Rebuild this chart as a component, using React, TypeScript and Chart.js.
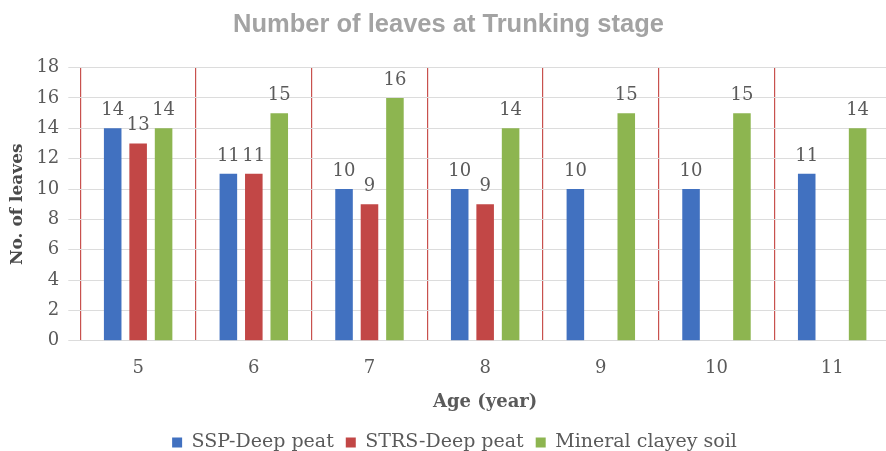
import React, { useEffect, useRef } from "react";
import { Chart, registerables } from "chart.js";

Chart.register(...registerables);

const categories = ["5", "6", "7", "8", "9", "10", "11"];
const sspDeepPeat = [14, 11, 10, 10, 10, 10, 11];
const strsDeepPeat: (number | null)[] = [13, 11, 9, 9, null, null, null];
const mineralClayeySoil = [14, 15, 16, 14, 15, 15, 14];
const seriesNames = ["SSP-Deep peat", "STRS-Deep peat", "Mineral clayey soil"];
const seriesColors = ["#4171C0", "#C24746", "#8DB550"];

const SERIF = '"DejaVu Serif", serif';

const valueLabels = {
  id: "valueLabels",
  afterDatasetsDraw(chart: any) {
    const ctx = chart.ctx;
    ctx.save();
    ctx.font = `18px ${SERIF}`;
    ctx.fillStyle = "#5a5a5a";
    ctx.textAlign = "center";
    ctx.textBaseline = "alphabetic";
    chart.data.datasets.forEach((ds: any, i: number) => {
      const meta = chart.getDatasetMeta(i);
      meta.data.forEach((bar: any, j: number) => {
        const v = ds.data[j];
        if (v == null) return;
        ctx.fillText(String(v), bar.x, bar.y - 13);
      });
    });
    ctx.restore();
  },
};

const legendShift = {
  id: "legendShift",
  afterLayout(chart: any) {
    if (chart.legend) {
      chart.legend.left += 6;
      chart.legend.right += 6;
    }
  },
};

export default function App() {
  const ref = useRef<HTMLCanvasElement | null>(null);
  useEffect(() => {
    if (!ref.current) return;
    const data = [sspDeepPeat, strsDeepPeat, mineralClayeySoil];
    const chart = new Chart(ref.current, {
      type: "bar",
      data: {
        labels: categories,
        datasets: seriesNames.map((name, i) => ({
          label: name,
          data: data[i],
          backgroundColor: seriesColors[i],
          borderWidth: 0,
          categoryPercentage: 0.66,
          barPercentage: 0.69,
        })),
      },
      plugins: [valueLabels, legendShift],
      options: {
        animation: false,
        responsive: true,
        maintainAspectRatio: false,
        events: [],
        layout: { padding: { left: 7, right: 6, top: 2, bottom: 0 } },
        plugins: {
          title: {
            display: true,
            text: "Number of leaves at Trunking stage",
            color: "#a3a3a3",
            font: { family: '"Liberation Sans", Arial, sans-serif', size: 25.5, weight: "bold" },
            padding: { top: 8, bottom: 27 },
          },
          legend: {
            position: "bottom",
            labels: {
              color: "#5a5a5a",
              font: { family: SERIF, size: 19 },
              boxWidth: 10,
              boxHeight: 10,
              padding: 12,
            },
          },
          tooltip: { enabled: false },
        },
        scales: {
          x: {
            grid: {
              offset: true,
              color: "#c8514e",
              lineWidth: 1.2,
              drawTicks: false,
            },
            border: { display: true, color: "#d9d9d9" },
            ticks: {
              color: "#5a5a5a",
              font: { family: SERIF, size: 18 },
              padding: 17,
            },
            title: {
              display: true,
              text: "Age (year)",
              color: "#5a5a5a",
              font: { family: SERIF, size: 18, weight: "bold" },
              padding: { top: -5, bottom: 8 },
            },
          },
          y: {
            min: 0,
            max: 18,
            ticks: {
              stepSize: 2,
              color: "#5a5a5a",
              font: { family: SERIF, size: 18 },
              padding: 9,
            },
            grid: { color: "#dcdcdc", tickLength: 12 },
            border: { display: false },
            title: {
              display: true,
              text: "No. of leaves",
              color: "#4a4a4a",
              font: { family: SERIF, size: 17, weight: "bold" },
              padding: { top: 0, bottom: 0 },
            },
          },
        },
      },
    });
    return () => chart.destroy();
  }, []);
  return (
    <div style={{ position: "fixed", left: 0, top: 0, width: 896, height: 462, background: "#fff" }}>
      <canvas ref={ref} />
    </div>
  );
}
